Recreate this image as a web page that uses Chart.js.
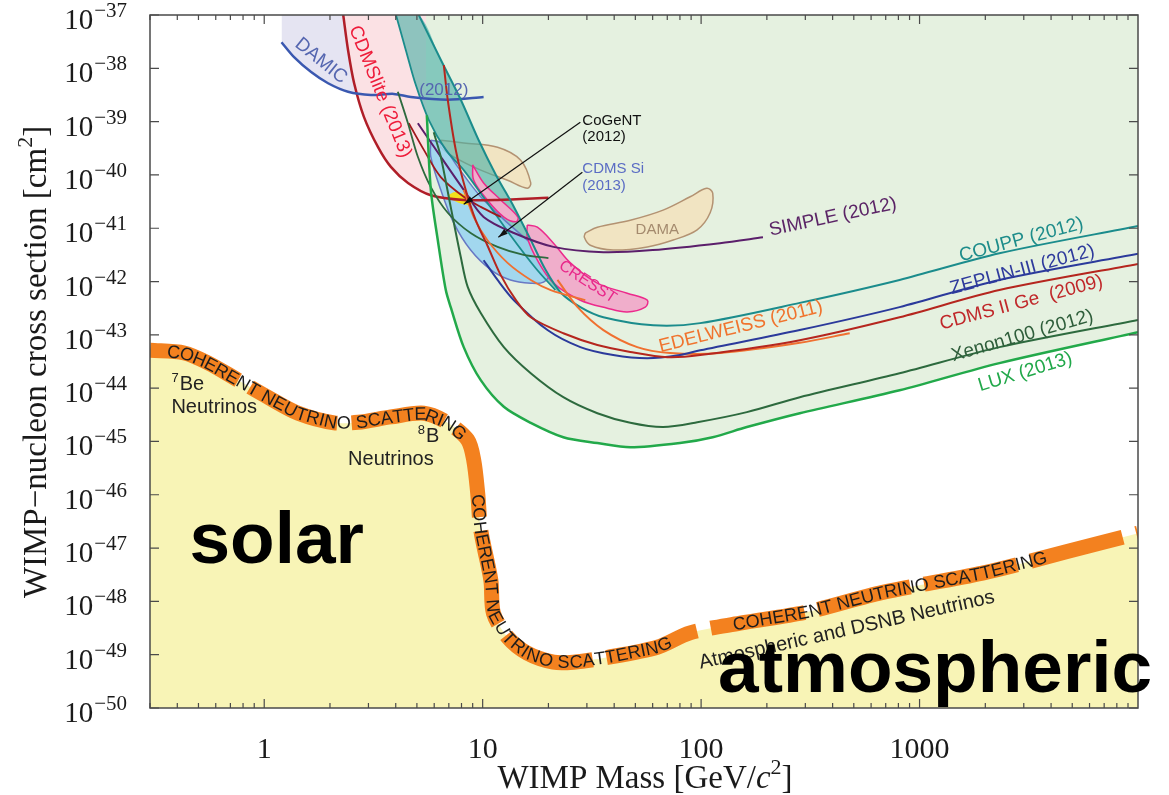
<!DOCTYPE html>
<html>
<head>
<meta charset="utf-8">
<script src="https://cdn.jsdelivr.net/npm/chart.js@4.4.1/dist/chart.umd.min.js"></script>
<style>
  html, body { margin: 0; padding: 0; background: #fff; }
  #wrap { width: 1169px; height: 795px; }
</style>
</head>
<body>
<div id="wrap"><canvas id="wimpChart" width="1169" height="795"></canvas></div>
<script>
// x: WIMP mass in GeV/c^2, y: log10 of the cross section in cm^2
const X_MIN = 0.3, X_MAX = 10000;
const Y_MIN = -50, Y_MAX = -37;
const xMajorTicks = [1, 10, 100, 1000];
const yTickExps = [-37, -38, -39, -40, -41, -42, -43, -44, -45, -46, -47, -48, -49, -50];

// neutrino floor (coherent neutrino scattering)
const floorMass = [0.3, 0.43, 0.555, 0.76, 1.04, 1.43, 2.09, 2.69, 3.8, 5.38, 6.92, 8.54, 9.1, 9.49, 9.8, 10.9, 11.2, 13.0, 16.0, 21.1, 26.0, 37.3, 63, 89, 151, 305, 678, 1940, 4690, 10000];
const floorSigma = [-43.29, -43.34, -43.53, -43.85, -44.17, -44.47, -44.65, -44.64, -44.54, -44.47, -44.65, -44.97, -45.35, -45.97, -46.66, -47.60, -48.22, -48.67, -48.97, -49.14, -49.14, -49.05, -48.86, -48.59, -48.41, -48.20, -47.83, -47.47, -47.07, -46.72];

// exclusion limits
const luxMass = [5.55, 5.79, 6.23, 6.78, 7.14, 8.19, 9.8, 12.5, 16.6, 23.4, 33.5, 47.4, 80, 113, 162, 283, 810, 2320, 10000];
const luxSigma = [-38.88, -40.28, -41.22, -42.16, -42.48, -43.23, -43.85, -44.35, -44.65, -44.92, -45.03, -45.11, -45.03, -44.92, -44.73, -44.47, -44.04, -43.53, -42.95];
const xenon100Mass = [5.97, 6.43, 7.14, 7.94, 8.54, 9.8, 12.5, 16.6, 23.4, 33.5, 47.4, 67, 96, 162, 283, 810, 2320, 10000];
const xenon100Sigma = [-39.20, -39.66, -40.60, -41.54, -42.10, -42.59, -43.23, -43.72, -44.17, -44.47, -44.65, -44.73, -44.64, -44.45, -44.17, -43.72, -43.23, -42.72];
const xenon10Mass = [4.09, 4.55, 5.05, 5.79, 6.92, 8.81, 11.7, 15.4, 20.0];
const xenon10Sigma = [-38.44, -39.03, -39.66, -40.23, -40.71, -41.09, -41.35, -41.50, -41.56];
const couppMass = [5.10, 6.43, 7.94, 9.59, 11.5, 13.9, 16.6, 19.4, 22.7, 28.0, 35.7, 60.4, 99, 283, 810, 2320, 10000];
const couppSigma = [-37.00, -37.84, -38.59, -39.35, -40.00, -40.60, -41.22, -41.78, -42.20, -42.48, -42.67, -42.82, -42.78, -42.40, -41.97, -41.47, -40.96];
const couppEdgeMass = [4.01, 4.45, 4.94, 5.67, 6.78, 8.19, 10.3, 13.4, 17.5, 21.5];
const couppEdgeSigma = [-37.00, -37.66, -38.31, -38.97, -39.53, -39.91, -40.47, -41.13, -41.75, -42.16];
const zeplinMass = [10.1, 11.7, 13.9, 19.8, 28.0, 39.6, 56.6, 80, 99, 283, 810, 2320, 10000];
const zeplinSigma = [-41.60, -41.97, -42.35, -42.91, -43.23, -43.38, -43.44, -43.38, -43.29, -42.91, -42.48, -41.97, -41.48];
const cdmsGeMass = [6.64, 6.92, 7.53, 8.36, 9.29, 10.5, 12.1, 14.2, 16.6, 23.4, 33.5, 47.4, 70, 99, 283, 810, 2320, 10000];
const cdmsGeSigma = [-37.94, -38.59, -39.53, -40.28, -40.85, -41.32, -41.88, -42.35, -42.67, -42.97, -43.19, -43.32, -43.42, -43.38, -43.10, -42.67, -42.16, -41.67];
const cdmsLowMass = [4.59, 5.38, 6.43, 8.19, 9.80, 12.1];
const cdmsLowSigma = [-39.03, -39.53, -40.04, -40.41, -40.60, -40.79];
const edwLowMass = [8.19, 9.10, 10.5, 13.0, 16.6, 20.5, 29.5];
const edwLowSigma = [-40.28, -40.79, -41.22, -41.65, -41.97, -42.16, -42.35];
const edelweissMass = [22.0, 27.2, 35.7, 51, 72, 122, 283, 479];
const edelweissSigma = [-41.97, -42.48, -42.91, -43.23, -43.34, -43.34, -43.15, -42.97];
const simpleMass = [5.05, 6.43, 8.19, 10.1, 13.9, 21.1, 35.7, 60, 122, 192];
const simpleSigma = [-39.03, -39.66, -40.28, -40.79, -41.09, -41.35, -41.45, -41.41, -41.28, -41.17];
const cdmsLiteMass = [2.30, 2.42, 2.58, 2.86, 3.32, 3.80, 4.55, 5.79, 8.19, 11.7, 20.0];
const cdmsLiteSigma = [-37.0, -37.66, -38.28, -38.91, -39.48, -39.85, -40.15, -40.38, -40.47, -40.47, -40.43];
const damicMass = [1.20, 1.37, 1.64, 1.96, 2.42, 3.08, 3.92, 4.69, 6.92, 10.1];
const damicSigma = [-37.51, -37.79, -38.07, -38.28, -38.44, -38.50, -38.48, -38.54, -38.59, -38.54];

// signal regions (closed contours)
const damaUpperMass = [6.43, 8.19, 11.7, 14.9, 16.6, 16.0, 13.0, 9.80, 7.37, 6.43, 6.43];
const damaUpperSigma = [-39.35, -39.40, -39.48, -39.72, -40.15, -40.25, -40.10, -39.91, -39.66, -39.48, -39.35];
const damaLowerMass = [29.5, 33.5, 47.4, 67.0, 89.1, 106, 113, 110, 95.9, 74.5, 56.7, 39.6, 31.1, 29.2, 29.5];
const damaLowerSigma = [-41.09, -40.98, -40.85, -40.66, -40.41, -40.25, -40.34, -40.71, -41.03, -41.22, -41.35, -41.41, -41.32, -41.17, -41.09];
const cdmsSiMass = [5.79, 6.43, 7.69, 9.80, 13.0, 16.6, 19.8, 20.5, 19.0, 16.6, 13.4, 10.9, 8.81, 7.37, 6.43, 5.79, 5.79];
const cdmsSiSigma = [-39.35, -39.40, -39.85, -40.41, -40.90, -41.28, -41.60, -41.82, -42.01, -42.03, -41.97, -41.78, -41.41, -40.90, -40.28, -39.66, -39.35];
const cresstUpperMass = [9.00, 10.1, 12.1, 14.5, 14.2, 12.5, 10.5, 9.10, 9.00];
const cresstUpperSigma = [-39.81, -40.15, -40.47, -40.79, -40.88, -40.79, -40.47, -40.10, -39.81];
const cresstLowerMass = [16.0, 17.8, 21.1, 25.2, 33.5, 45.9, 56.7, 55.5, 45.9, 37.2, 28.0, 21.1, 17.8, 16.0, 16.0];
const cresstLowerSigma = [-40.94, -40.98, -41.28, -41.65, -42.03, -42.22, -42.35, -42.48, -42.57, -42.50, -42.35, -42.03, -41.60, -41.17, -40.94];
const cogentMass = [6.92, 7.53, 8.54, 9.00, 8.36, 7.29, 6.92];
const cogentSigma = [-40.38, -40.32, -40.41, -40.53, -40.56, -40.47, -40.38];

// curve labels: [text, mass, log sigma, rotation deg, colour, font px]
const curveLabels = [
  ['SIMPLE (2012)', 401, -40.79, -12, '#5b2466', 19],
  ['COUPP (2012)', 2923, -41.22, -15, '#1d8c8a', 19],
  ['ZEPLIN-III (2012)', 2953, -41.78, -15, '#2e3a9c', 19],
  ['CDMS II Ge  (2009)', 2923, -42.40, -15, '#c0282a', 19],
  ['Xenon100 (2012)', 2953, -43.02, -16, '#2f5e3b', 19],
  ['LUX (2013)', 3048, -43.70, -17, '#21a84a', 19],
  ['EDELWEISS (2011)', 152, -42.85, -14, '#f0742e', 19],
  ['CRESST', 30.2, -42.01, 33, '#e8288a', 16],
  ['DAMA', 63, -41.03, 0, '#a48a6e', 15],
  ['DAMIC', 1.82, -37.86, 39, '#5566b0', 19],
  ['(2012)', 6.64, -38.41, 0, '#5566b0', 17],
  ['CDMSlite (2013)', 3.39, -38.44, 68, '#ee1c3a', 19],
  ['Atmospheric and DSNB Neutrinos', 464, -48.54, -12.7, '#222222', 20]
];
// left aligned notes: [text, mass, log sigma (baseline), colour, font]
const notes = [
  ['CoGeNT', 28.6, -39.06, '#111111', '15px "Liberation Sans"'],
  ['(2012)', 28.6, -39.36, '#111111', '15px "Liberation Sans"'],
  ['CDMS Si', 28.6, -39.96, '#5a6cc4', '15px "Liberation Sans"'],
  ['(2013)', 28.6, -40.28, '#5a6cc4', '15px "Liberation Sans"'],
  ['Neutrinos', 0.376, -44.47, '#222222', '20px "Liberation Sans"'],
  ['Neutrinos', 2.42, -45.44, '#222222', '20px "Liberation Sans"'],
  ['solar', 0.455, -47.28, '#000000', 'bold 73px "Liberation Sans"'],
  ['atmospheric', 119.6, -49.70, '#000000', 'bold 73px "Liberation Sans"']
];
// isotope notes with superscript mass number: [sup, text, mass, log sigma]
const isotopeNotes = [['7', 'Be', 0.376, -44.04], ['8', 'B', 5.05, -45.01]];
// arrows: [from mass, from sigma, to mass, to sigma]
const arrows = [[28.0, -39.01, 8.19, -40.55], [28.6, -39.95, 11.8, -41.17]];
// curved text along the floor starts at these masses
const floorTextStarts = [0.36, 9.5, 140];
const floorText = 'COHERENT NEUTRINO SCATTERING';

const pts = (xs, ys) => xs.map((x, i) => ({ x: x, y: ys[i] }));

function curve(label, xs, ys, color, width, order) {
  return { label: label, data: pts(xs, ys), borderColor: color, borderWidth: width, pointRadius: 0,
           fill: false, tension: 0.3, order: order, clip: 0 };
}
function area(label, data, color, fill, order, border, bw) {
  return { label: label, data: data, backgroundColor: color, fill: fill, pointRadius: 0,
           borderColor: border || 'rgba(0,0,0,0)', borderWidth: bw || 1, tension: 0.35, order: order, clip: 0 };
}

// green region: from the top down to LUX and along it
const greenRegion = [{ x: 5.5, y: Y_MAX }].concat(pts(luxMass, luxSigma));
// teal band between COUPP and its low-mass edge
const tealBand = pts(couppEdgeMass, couppEdgeSigma).concat(pts(couppMass.slice(0, 9), couppSigma.slice(0, 9)).reverse());
tealBand.push(tealBand[0]);

const datasets = [
  area('DAMIC region', pts(damicMass, damicSigma), '#e5e4f2', 'end', 100),
  area('CDMSlite region', pts(cdmsLiteMass, cdmsLiteSigma), '#fbe1e4', 'end', 95),
  area('LUX region', greenRegion, '#e5f1e0', 'end', 90),
  area('DAMA', pts(damaUpperMass, damaUpperSigma), '#f1e4c2', 'shape', 85, '#b39272', 1.5),
  area('DAMA 2', pts(damaLowerMass, damaLowerSigma), '#f1e4c2', 'shape', 85, '#b39272', 1.5),
  area('COUPP band', tealBand, 'rgba(70,175,165,0.6)', 'shape', 80),
  area('CDMS Si', pts(cdmsSiMass, cdmsSiSigma), 'rgba(150,210,240,0.85)', 'shape', 75, '#6878c4', 1.5),
  area('CRESST', pts(cresstUpperMass, cresstUpperSigma), '#f0aecb', 'shape', 70, '#ec2a8c', 1.5),
  area('CRESST 2', pts(cresstLowerMass, cresstLowerSigma), '#f0aecb', 'shape', 70, '#ec2a8c', 1.5),
  area('CoGeNT', pts(cogentMass, cogentSigma), '#f3e01c', 'shape', 68),
  { label: 'Neutrino floor', data: pts(floorMass, floorSigma), borderColor: '#f3811f', borderWidth: 15,
    borderDash: [95, 14], borderCapStyle: 'butt', backgroundColor: '#f8f4b6', fill: 'start',
    pointRadius: 0, tension: 0.3, order: 60, clip: 0 },
  curve('DAMIC', damicMass, damicSigma, '#3a58b0', 2.5, 20),
  curve('CDMSlite', cdmsLiteMass, cdmsLiteSigma, '#b01e28', 2.5, 20),
  curve('COUPP edge', couppEdgeMass, couppEdgeSigma, '#1b8c8c', 1.8, 20),
  curve('COUPP', couppMass, couppSigma, '#1b8c8c', 2, 19),
  curve('XENON10', xenon10Mass, xenon10Sigma, '#2d6a3e', 1.8, 18),
  curve('SIMPLE', simpleMass, simpleSigma, '#5b1f6b', 2, 18),
  curve('CDMS low', cdmsLowMass, cdmsLowSigma, '#a0181c', 1.8, 18),
  curve('EDELWEISS low', edwLowMass, edwLowSigma, '#f07030', 1.8, 17),
  curve('EDELWEISS', edelweissMass, edelweissSigma, '#f07030', 2, 17),
  curve('ZEPLIN-III', zeplinMass, zeplinSigma, '#2b3a9b', 2, 16),
  curve('CDMS II Ge', cdmsGeMass, cdmsGeSigma, '#b5261e', 2, 15),
  curve('Xenon100', xenon100Mass, xenon100Sigma, '#2d6a3e', 2, 14),
  curve('LUX', luxMass, luxSigma, '#22a94a', 2.5, 13)
];
const floorIndex = datasets.findIndex(d => d.label === 'Neutrino floor');

function textAlongPath(ctx, path, text, startPx) {
  const cum = [0];
  for (let i = 1; i < path.length; i++) {
    cum.push(cum[i - 1] + Math.hypot(path[i].x - path[i - 1].x, path[i].y - path[i - 1].y));
  }
  const at = d => {
    let i = 1;
    while (i < path.length - 1 && cum[i] < d) i++;
    const p0 = path[i - 1], p1 = path[i];
    const t = (d - cum[i - 1]) / ((cum[i] - cum[i - 1]) || 1);
    return { x: p0.x + (p1.x - p0.x) * t, y: p0.y + (p1.y - p0.y) * t };
  };
  let i = 1;
  while (i < path.length - 1 && path[i].x < startPx) i++;
  const t = (startPx - path[i - 1].x) / ((path[i].x - path[i - 1].x) || 1);
  let d = cum[i - 1] + (cum[i] - cum[i - 1]) * Math.max(0, Math.min(1, t));
  for (const ch of text) {
    const w = ctx.measureText(ch).width;
    const q = at(d + w / 2), qa = at(d + w / 2 - 6), qb = at(d + w / 2 + 6);
    ctx.save();
    ctx.translate(q.x, q.y);
    ctx.rotate(Math.atan2(qb.y - qa.y, qb.x - qa.x));
    ctx.fillText(ch, 0, 1);
    ctx.restore();
    d += w;
  }
}

function drawParts(ctx, parts, cx, baseY) {
  let total = 0;
  for (const p of parts) { ctx.font = p[1]; total += ctx.measureText(p[0]).width; }
  let xx = cx - total / 2;
  for (const p of parts) {
    ctx.font = p[1];
    ctx.fillText(p[0], xx, baseY + p[2]);
    xx += ctx.measureText(p[0]).width;
  }
}

const overlay = {
  id: 'overlay',
  afterDatasetsDraw(chart) {
    const ctx = chart.ctx, a = chart.chartArea;
    const xs = chart.scales.x, ys = chart.scales.y;
    const px = m => xs.getPixelForValue(m), py = s => ys.getPixelForValue(s);
    ctx.save();

    // text on the neutrino floor
    const path = chart.getDatasetMeta(floorIndex).data.map(p => ({ x: p.x, y: p.y }));
    ctx.font = '18px "Liberation Sans"';
    ctx.fillStyle = '#1c1c1c';
    ctx.textAlign = 'center';
    ctx.textBaseline = 'middle';
    floorTextStarts.forEach(m => textAlongPath(ctx, path, floorText, px(m)));

    // arrows
    ctx.strokeStyle = '#111';
    ctx.fillStyle = '#111';
    ctx.lineWidth = 1.2;
    for (const ar of arrows) {
      const x0 = px(ar[0]), y0 = py(ar[1]), x1 = px(ar[2]), y1 = py(ar[3]);
      const ang = Math.atan2(y1 - y0, x1 - x0);
      ctx.beginPath(); ctx.moveTo(x0, y0); ctx.lineTo(x1, y1); ctx.stroke();
      ctx.beginPath();
      ctx.moveTo(x1, y1);
      ctx.lineTo(x1 - 10 * Math.cos(ang - 0.3), y1 - 10 * Math.sin(ang - 0.3));
      ctx.lineTo(x1 - 10 * Math.cos(ang + 0.3), y1 - 10 * Math.sin(ang + 0.3));
      ctx.closePath(); ctx.fill();
    }

    // curve labels
    for (const l of curveLabels) {
      ctx.save();
      ctx.translate(px(l[1]), py(l[2]));
      ctx.rotate(l[3] * Math.PI / 180);
      ctx.font = l[5] + 'px "Liberation Sans"';
      ctx.fillStyle = l[4];
      ctx.textAlign = 'center';
      ctx.textBaseline = 'middle';
      ctx.fillText(l[0], 0, 0);
      ctx.restore();
    }

    // frame and inward ticks
    ctx.strokeStyle = '#4a4a4a';
    ctx.lineWidth = 1.5;
    ctx.strokeRect(a.left, a.top, a.right - a.left, a.bottom - a.top);
    ctx.lineWidth = 1.2;
    ctx.beginPath();
    for (const d of [0.1, 1, 10, 100, 1000]) {
      for (let k = 1; k <= 9; k++) {
        const v = k * d;
        if (v <= X_MIN || v >= X_MAX) continue;
        const len = k === 1 ? 9 : 5, xx = px(v);
        ctx.moveTo(xx, a.bottom); ctx.lineTo(xx, a.bottom - len);
        ctx.moveTo(xx, a.top); ctx.lineTo(xx, a.top + len);
      }
    }
    for (const e of yTickExps) {
      const yy = py(e);
      ctx.moveTo(a.left, yy); ctx.lineTo(a.left + 9, yy);
      ctx.moveTo(a.right, yy); ctx.lineTo(a.right - 9, yy);
    }
    ctx.stroke();

    // tick labels
    ctx.fillStyle = '#1a1a1a';
    ctx.textBaseline = 'alphabetic';
    ctx.textAlign = 'center';
    ctx.font = '30px "Liberation Serif"';
    for (const v of xMajorTicks) ctx.fillText(String(v), px(v), 758);
    ctx.textAlign = 'left';
    for (const e of yTickExps) {
      const yy = py(e);
      const sup = '\u2212' + Math.abs(e);
      ctx.font = '21px "Liberation Serif"';
      const sw = ctx.measureText(sup).width;
      ctx.fillText(sup, a.left - 23 - sw, yy + 2);
      ctx.font = '29px "Liberation Serif"';
      const bw = ctx.measureText('10').width;
      ctx.fillText('10', a.left - 24 - sw - bw, yy + 14);
    }

    // axis titles
    drawParts(ctx, [['WIMP Mass [GeV/', '33px "Liberation Serif"', 0], ['c', 'italic 33px "Liberation Serif"', 0],
                    ['2', '22px "Liberation Serif"', -14], [']', '33px "Liberation Serif"', 0]], 645, 788);
    ctx.save();
    ctx.translate(46, 362);
    ctx.rotate(-Math.PI / 2);
    drawParts(ctx, [['WIMP\u2212nucleon cross section [cm', '33px "Liberation Serif"', 0],
                    ['2', '22px "Liberation Serif"', -14], [']', '33px "Liberation Serif"', 0]], 0, 0);
    ctx.restore();

    // isotope notes and other text
    ctx.textAlign = 'left';
    for (const n of isotopeNotes) {
      const xx = px(n[2]), yy = py(n[3]);
      ctx.fillStyle = '#222';
      ctx.font = '13px "Liberation Sans"';
      ctx.fillText(n[0], xx, yy - 8);
      const sw = ctx.measureText(n[0]).width;
      ctx.font = '20px "Liberation Sans"';
      ctx.fillText(n[1], xx + sw + 1, yy);
    }
    for (const n of notes) {
      ctx.font = n[4];
      ctx.fillStyle = n[3];
      ctx.fillText(n[0], px(n[1]), py(n[2]));
    }
    ctx.restore();
  }
};

new Chart(document.getElementById('wimpChart').getContext('2d'), {
  type: 'line',
  data: { datasets: datasets },
  options: {
    responsive: false,
    animation: false,
    events: [],
    layout: { padding: { left: 0, right: 31, top: 15, bottom: 0 } },
    plugins: { legend: { display: false }, tooltip: { enabled: false } },
    scales: {
      x: {
        type: 'logarithmic', min: X_MIN, max: X_MAX,
        grid: { display: false, drawTicks: false }, border: { display: false },
        ticks: { display: false },
        afterFit(s) { s.height = 87; }
      },
      y: {
        type: 'linear', min: Y_MIN, max: Y_MAX,
        grid: { display: false, drawTicks: false }, border: { display: false },
        ticks: { display: false },
        afterFit(s) { s.width = 150; }
      }
    }
  },
  plugins: [overlay]
});
</script>
</body>
</html>
